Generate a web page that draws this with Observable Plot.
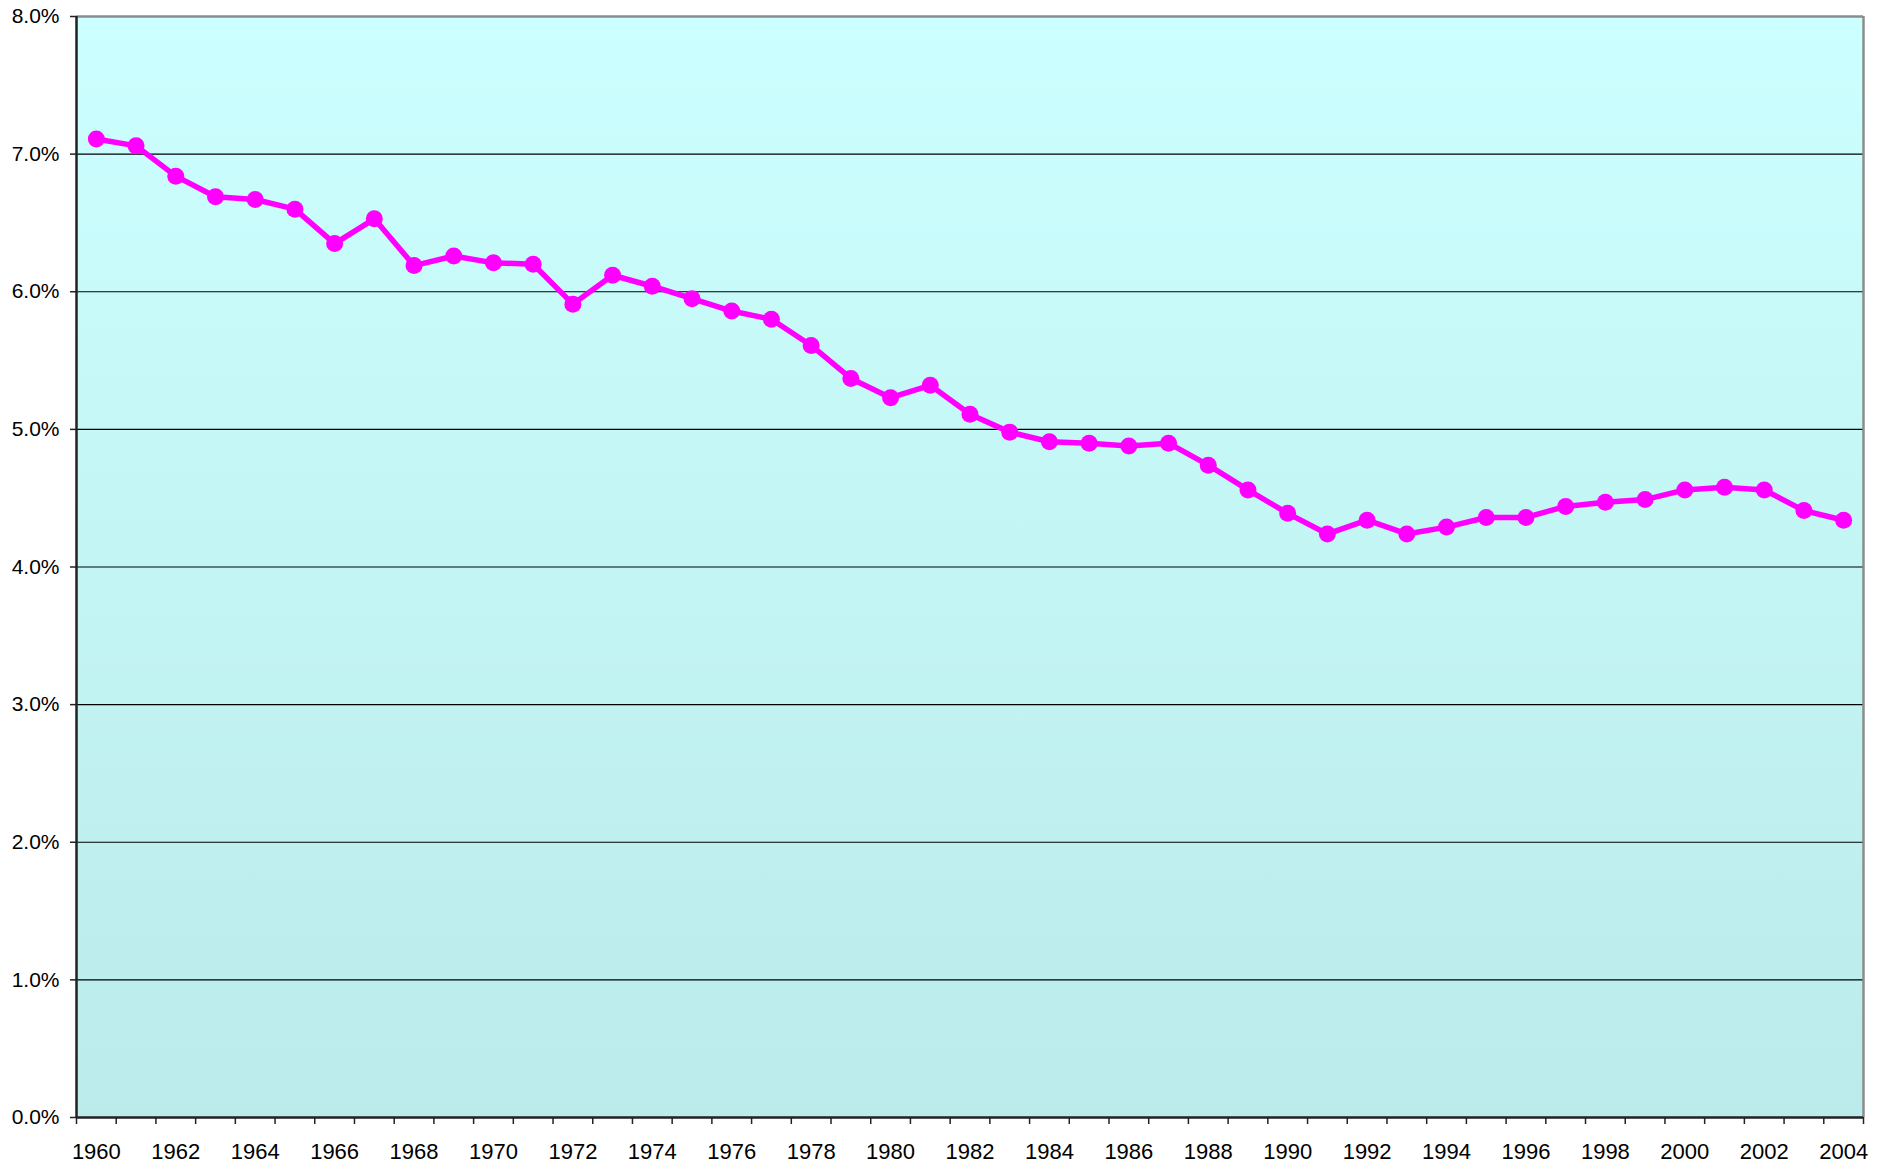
<!DOCTYPE html>
<html>
<head>
<meta charset="utf-8">
<script src="https://cdn.jsdelivr.net/npm/d3@7"></script>
<script src="https://cdn.jsdelivr.net/npm/@observablehq/plot@0.6"></script>
<style>
  html, body { margin: 0; padding: 0; background: #ffffff; }
  #chart svg { display: block; }
</style>
</head>
<body>
<div id="chart"></div>
<script>
// Data (percent values)
const years = [1960,1961,1962,1963,1964,1965,1966,1967,1968,1969,
               1970,1971,1972,1973,1974,1975,1976,1977,1978,1979,
               1980,1981,1982,1983,1984,1985,1986,1987,1988,1989,
               1990,1991,1992,1993,1994,1995,1996,1997,1998,1999,
               2000,2001,2002,2003,2004];
const values = [7.11,7.06,6.84,6.69,6.67,6.60,6.35,6.53,6.19,6.26,
                6.21,6.20,5.91,6.12,6.04,5.95,5.86,5.80,5.61,5.37,
                5.23,5.32,5.11,4.98,4.91,4.90,4.88,4.90,4.74,4.56,
                4.39,4.24,4.34,4.24,4.29,4.36,4.36,4.44,4.47,4.49,
                4.56,4.58,4.56,4.41,4.34];
const yTicks = [0,1,2,3,4,5,6,7,8];
const xLabels = [1960,1962,1964,1966,1968,1970,1972,1974,1976,1978,1980,1982,
                 1984,1986,1988,1990,1992,1994,1996,1998,2000,2002,2004];

const data = years.map((y, i) => ({year: y, value: values[i]}));
const xMin = years[0] - 0.5, xMax = years[years.length - 1] + 0.5;
const boundaries = years.map(y => y - 0.5).concat([xMax]);
const gridValues = yTicks.filter(t => t > 0 && t < 8);

const font = "'Liberation Sans', Arial, sans-serif";

const plot = Plot.plot({
  width: 1896,
  height: 1168,
  marginLeft: 76,
  marginRight: 33,
  marginTop: 16,
  marginBottom: 51,
  style: {fontFamily: font, background: "#ffffff", color: "#000000"},
  x: {type: "linear", domain: [xMin, xMax]},
  y: {domain: [0, 8]},
  marks: [
    Plot.frame({fill: "url(#bgGrad)", stroke: "none"}),
    Plot.ruleY(gridValues, {stroke: "#000000", strokeWidth: 1.2}),
    Plot.ruleY([8], {stroke: "#8c8c8c", strokeWidth: 2.5}),
    Plot.ruleX([xMax], {stroke: "#8c8c8c", strokeWidth: 2.5}),
    Plot.ruleX([xMin], {stroke: "#222222", strokeWidth: 2.5}),
    Plot.ruleY([0], {stroke: "#222222", strokeWidth: 2.5}),
    Plot.axisY({ticks: yTicks, tickSize: 6, tickPadding: 11, fontSize: 21,
                stroke: "#222222", strokeWidth: 1.5,
                tickFormat: d => d.toFixed(1) + "%", label: null}),
    Plot.axisX({ticks: boundaries, tickSize: 7, tickFormat: () => "",
                stroke: "#222222", strokeWidth: 1.5, label: null}),
    Plot.axisX({ticks: xLabels, tickSize: 0, tickPadding: 26, fontSize: 22,
                tickFormat: d => String(d), label: null}),
    Plot.line(data, {x: "year", y: "value", stroke: "#ff00ff", strokeWidth: 5.5,
                     strokeLinejoin: "round"}),
    Plot.dot(data, {x: "year", y: "value", r: 8.5, fill: "#ff00ff", stroke: "none"})
  ]
});

// Gradient background for the plot area
const ns = "http://www.w3.org/2000/svg";
const defs = document.createElementNS(ns, "defs");
const grad = document.createElementNS(ns, "linearGradient");
grad.setAttribute("id", "bgGrad");
grad.setAttribute("x1", "0"); grad.setAttribute("y1", "0");
grad.setAttribute("x2", "0"); grad.setAttribute("y2", "1");
[["0%", "#ccffff"], ["100%", "#bbebea"]].forEach(([o, c]) => {
  const s = document.createElementNS(ns, "stop");
  s.setAttribute("offset", o);
  s.setAttribute("stop-color", c);
  grad.appendChild(s);
});
defs.appendChild(grad);
plot.insertBefore(defs, plot.firstChild);

document.getElementById("chart").appendChild(plot);
</script>
</body>
</html>
